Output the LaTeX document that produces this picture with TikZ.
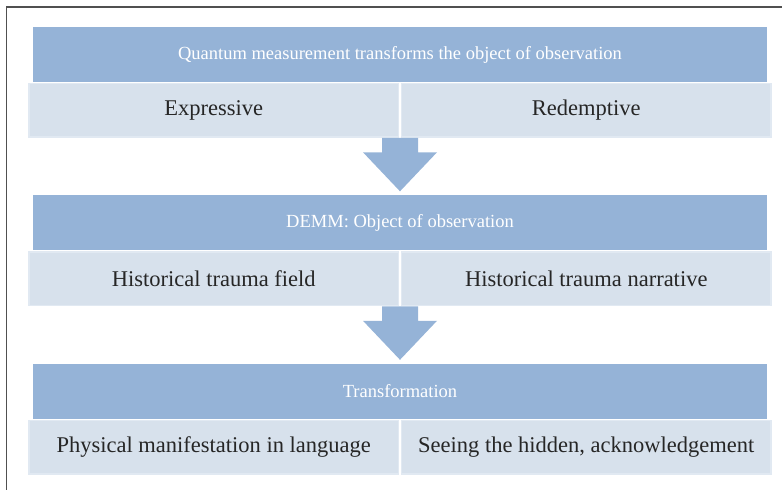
\documentclass[tikz,border=0pt]{standalone}
\usepackage{fontspec}
\setmainfont{Liberation Serif}
\usetikzlibrary{positioning,calc}

\definecolor{headblue}{HTML}{95B3D7}
\definecolor{cellblue}{HTML}{D7E1EC}
\definecolor{celledge}{HTML}{E1E9F2}
\definecolor{framegray}{HTML}{505050}
\definecolor{textgray}{HTML}{262626}

\begin{document}
\begin{tikzpicture}[x=1pt, y=1pt,
  head/.style={fill=headblue, text=white, minimum width=734pt, minimum height=55pt,
    inner sep=0pt, font=\fontsize{18.5}{20}\selectfont},
  cell/.style={fill=cellblue, draw=celledge, line width=1.5pt, minimum width=369.5pt,
    minimum height=53.5pt, inner sep=0pt, text=textgray, font=\fontsize{22.5}{24}\selectfont},
  blockarrow/.style={fill=headblue}]
  \useasboundingbox (0,0) rectangle (782,490);
  \draw[framegray, line width=1.5pt] (6.5,-5) |- (790,483);

  \foreach \i/\title/\lefttext/\righttext in {
      1/{Quantum measurement transforms the object of observation}/{Expressive}/{Redemptive},
      2/{DEMM: Object of observation}/{Historical trauma field}/{Historical trauma narrative},
      3/{Transformation}/{Physical manifestation in language}/{Seeing the hidden, acknowledgement}} {
    \node[head] (h\i) at (400, {435.5-(\i-1)*168.5}) {\title};
    \node[cell, below left=0.75pt and 0.75pt of h\i.south] (l\i) {\lefttext};
    \node[cell, below right=0.75pt and 0.75pt of h\i.south] (r\i) {\righttext};
  }

  % arrows between the blocks
  \foreach \i in {1,2} {
    \pgfmathtruncatemacro{\j}{\i+1}
    \coordinate (s\i) at (l\i.south east -| h\j.north);
    \fill[blockarrow] ($(s\i)+(-18,0)$) |- ($(h\j.north)+(-37,43)$)
      -- ($(h\j.north)+(0,4)$) -- ($(h\j.north)+(37,43)$) -| ($(s\i)+(18,0)$) -- cycle;
  }
\end{tikzpicture}
\end{document}
